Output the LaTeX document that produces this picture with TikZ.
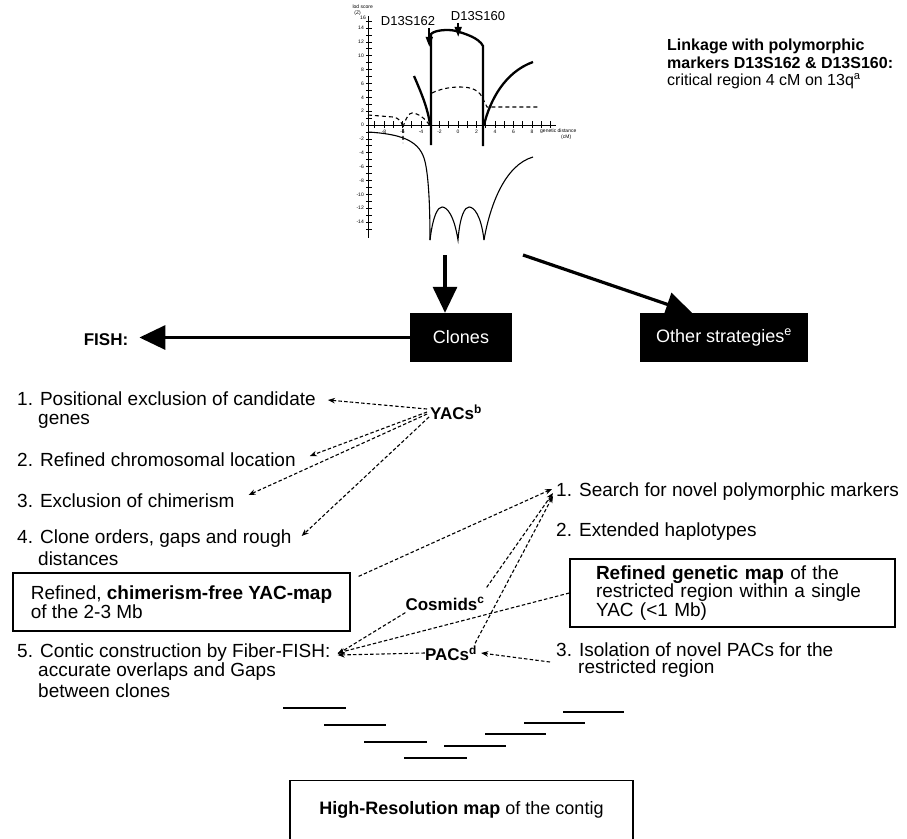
\documentclass[tikz,border=0pt]{standalone}
\usepackage{fontspec}
\setmainfont{Liberation Sans}
\usetikzlibrary{arrows.meta,calc}
\begin{document}
\begin{tikzpicture}[x=1pt,y=-1pt,
  txt/.style={font=\fontsize{19}{21}\selectfont, inner sep=0pt, anchor=west},
  hdr/.style={font=\fontsize{16}{17.5}\selectfont, inner sep=0pt, align=left, anchor=north west},
  lbl/.style={font=\fontsize{17}{17}\selectfont\bfseries, inner sep=0pt},
  mk/.style={font=\fontsize{13}{13}\selectfont, inner sep=0pt},
  tinyl/.style={font=\fontsize{5}{5}\selectfont, inner sep=0pt},
  darr/.style={dash pattern=on 3.5pt off 2.2pt, line width=1.1pt, -{Stealth[length=7pt,width=5.5pt]}},
  boxed/.style={draw, line width=1.3pt, inner sep=0pt, align=left, font=\fontsize{19}{18.5}\selectfont},
  blk/.style={fill=black, text=white, font=\fontsize{18}{18}\selectfont, inner sep=0pt},
  seg/.style={line width=1.6pt},
  bigarr/.style={line width=3.2pt, -{Triangle[width=24pt,length=26pt]}},
  marr/.style={line width=2pt, -{Triangle[width=7pt,length=10pt]}},
  axis/.style={line width=0.8pt},
  thick/.style={line width=2.3pt},
  thin/.style={line width=1.1pt},
  dsh/.style={line width=1.1pt, dash pattern=on 4pt off 3pt},
]
\useasboundingbox (0,0) rectangle (907,838);
\clip (0,0) rectangle (907,838);

% ---------------- plot ----------------
\draw[axis] (368,16) -- (368,238);
\draw[axis] (368,125) -- (556,125);
\foreach \v in {-15,...,15} \draw[line width=0.6pt] (366,{125-6.93*\v}) -- (372,{125-6.93*\v});
\foreach \v in {-14,-12,...,14} \node[tinyl,anchor=east] (yt\v) at (364,{125-6.93*\v}) {\v};
\foreach \k in {-9,...,10} \draw[line width=0.6pt] ({458+9.25*\k},121) -- ({458+9.25*\k},128);
\foreach \k in {-8,-6,...,8} \node[tinyl] (xt\k) at ({458+9.25*\k},132) {\k};
\node[tinyl,anchor=east] (lod) at (373,7) {lod score};
\node[tinyl,anchor=east] (zz) at (361,13) {(Z)};
\node[tinyl,anchor=east] (y16) at (366,18) {16};
\node[tinyl,anchor=west] (gd) at (540,131) {genetic distance};
\node[tinyl,anchor=west] (cm) at (561,137) {(cM)};

% thick solid curve
\draw[thick] (414,76) .. controls (420,90) and (428,108) .. (430,125);
\draw[thick] (431,145) -- (431,34) .. controls (435,30) and (448,29) .. (456,31) .. controls (466,34) and (479,38) .. (483,46) -- (483,146);
\draw[thick] (484,125) .. controls (490,100) and (505,72) .. (533,62);
% dashed curve
\draw[dsh] (368,115) -- (393,117) .. controls (399,118) and (401,121) .. (403,127) -- (403,143);
\draw[dsh] (403,127) .. controls (406,118) and (409,113) .. (412,113) .. controls (418,113) and (426,119) .. (430,126);
\draw[dsh] (432,93) .. controls (440,89) and (450,87) .. (460,87) .. controls (472,87) and (480,90) .. (484,101) -- (487,107) -- (540,107);
% thin solid curve
\draw[thin] (368,132) .. controls (400,134) and (418,140) .. (424,158) .. controls (428,170) and (430,200) .. (430,240);
\draw[thin] (430,240) .. controls (433,215) and (438,207) .. (442,207) .. controls (447,207) and (454,215) .. (458,240)
  .. controls (460,215) and (465,207) .. (469,207) .. controls (474,207) and (481,215) .. (484,240);
\draw[thin] (484,240) .. controls (490,205) and (505,165) .. (533,157);

% markers
\node[mk] (m162) at (408,21) {D13S162};
\node[mk] (m160) at (478,16) {D13S160};
\draw[marr] ($(m162.south east)+(-6,2)$) -- ++(0,19);
\draw[marr] ($(m160.south west)+(7.5,2)$) -- ++(0,14);

% header text
\node[hdr] (link) at (667,39) {\textbf{Linkage with polymorphic}\\\textbf{markers D13S162 \& D13S160:}\\critical region 4 cM on 13q\textsuperscript{a}};

% ---------------- big arrows and boxes ----------------
\node[blk, minimum width=102pt, minimum height=49pt] (clones) at (461,337.5) {Clones};
\node[blk, minimum width=168pt, minimum height=49pt] (other) at (724,337.5) {Other strategies\textsuperscript{e}};
\node[lbl] (fish) at (106,340) {FISH:};
\coordinate (plotbot) at (445,255);
\coordinate (diagst) at (523,255);
\draw[bigarr] (plotbot) -- (clones.north -| plotbot);
\draw[bigarr] (diagst) -- ($(other.north)+(-32,0)$);
\draw[bigarr] (clones.west) -- ($(clones.west -| fish.east)+(11,0)$);

% ---------------- left list ----------------
\node[txt] (l1a) at (17,399) {1. Positional exclusion of candidate};
\node[txt] (l1b) at (38,421) {genes};
\node[txt] (l2) at (17,460) {2. Refined chromosomal location};
\node[txt] (l3) at (17,501) {3. Exclusion of chimerism};
\node[txt] (l4a) at (17,539) {4. Clone orders, gaps and rough};
\node[txt] (l4b) at (38,559) {distances};
\node[boxed, minimum width=337pt, minimum height=58pt] (chim) at (181.5,602) {Refined, \textbf{chimerism-free YAC-map}\\of the 2-3 Mb};
\node[txt] (l5a) at (17,653) {5. Contic construction by Fiber-FISH:};
\node[txt] (l5b) at (38,672) {accurate overlaps and Gaps};
\node[txt] (l5c) at (38,691) {between clones};

% ---------------- right list ----------------
\node[txt] (r1) at (556,492) {1. Search for novel polymorphic markers};
\node[txt] (r2) at (556,532) {2. Extended haplotypes};
\node[boxed, minimum width=325pt, minimum height=68pt, text width=273pt, inner xsep=26pt] (gen) at (732.5,593) {\textbf{Refined genetic map} of the\\restricted region within a single\\YAC (<1 Mb)};
\node[txt] (r3a) at (556,650) {3. Isolation of novel PACs for the};
\node[txt] (r3b) at (578,669) {restricted region};

% ---------------- clone labels ----------------
\node[lbl] (yacs) at (456,412) {YACs\textsuperscript{b}};
\node[lbl] (cosm) at (445,604) {Cosmids\textsuperscript{c}};
\node[lbl] (pacs) at (451,653) {PACs\textsuperscript{d}};

% ---------------- dashed connectors ----------------
\draw[darr] ($(yacs.west)+(-3,-3)$) -- ($(l1a.east)+(12,1)$);
\draw[darr] ($(yacs.west)+(-3,0)$) -- ($(l2.east)+(14,-4)$);
\draw[darr] ($(yacs.west)+(-3,2)$) -- ($(l3.east)+(14,-6)$);
\draw[darr] ($(yacs.west)+(-1,5)$) -- ($(l4a.east)+(10,-3)$);
\draw[darr] ($(chim.north east)+(8,4)$) -- ($(r1.west)+(-4,-3)$);
\draw[darr] ($(cosm.north east)+(2,-10)$) -- ($(r1.west)+(-3,1)$);
\draw[darr] ($(pacs.north east)+(-2,-2)$) -- ($(r1.west)+(-3,4)$);
\draw[darr] (gen.west) -- ($(l5a.east)+(7,0)$);
\draw[darr] ($(cosm.south west)+(0,2)$) -- ($(l5a.east)+(7,1)$);
\draw[darr] (pacs.west) -- ($(l5a.east)+(7,2)$);
\draw[darr] ($(r3a.west)+(-6,12)$) -- ($(pacs.east)+(4,0)$);

% ---------------- contig segments ----------------
\draw[seg] (283,708) -- (346,708);
\draw[seg] (324,725) -- (386,725);
\draw[seg] (364,742) -- (427,742);
\draw[seg] (404,758) -- (467,758);
\draw[seg] (444,746) -- (506,746);
\draw[seg] (485,734) -- (546,734);
\draw[seg] (524,723) -- (585,723);
\draw[seg] (563,712) -- (624,712);

% ---------------- high resolution box ----------------
\node[boxed, anchor=north, minimum width=343pt, minimum height=70pt, text depth=16pt, font=\fontsize{18}{18}\selectfont] (hires) at (461.5,780) {\textbf{High-Resolution map} of the contig};
\end{tikzpicture}
\end{document}
